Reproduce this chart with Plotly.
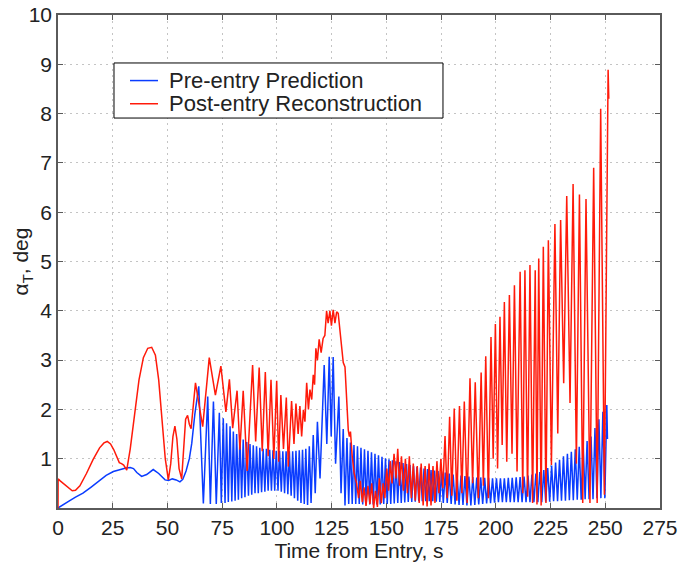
import plotly.graph_objects as go

# ---------------- data ----------------
# Pre-entry prediction (blue): smooth part, then peak/trough sequence
blue_t = [0, 2, 5, 8, 11.4, 15, 19.2, 22, 25.3, 28, 31, 33, 34.5, 36, 38.2, 40.5, 43.5, 46, 48.9, 50.5,
          52.2, 54, 55.7, 57, 58.5, 60, 61.1, 62.5, 64.3,
          66.4, 68.4, 69.6, 71.0, 72.3, 73.7, 74.6, 75.5, 76.3, 77.0, 77.8, 78.6, 79.4, 80.1, 80.9, 81.6,
          82.4, 83.1, 83.9, 84.6, 85.4, 86.2, 87.0, 87.7, 88.5, 89.2, 90.0, 90.7, 91.5, 92.2, 93.0, 93.7,
          94.5, 95.2, 96.0, 96.7, 97.5, 98.2, 99.0, 99.7, 100.5, 101.2, 102.0, 102.7, 103.5, 104.2, 105.0,
          105.7, 106.5, 107.2, 108.0, 108.7, 109.5, 110.2, 111.0, 111.7, 112.5, 113.2, 114.0, 114.8, 115.6,
          116.6, 117.5, 118.5, 119.7, 121.6, 122.8, 123.9, 124.8, 125.7, 126.8, 128.3, 129.3, 130.3, 131.1,
          132.0, 132.8, 133.6, 134.4, 135.2, 136.0, 136.8, 137.6, 138.4, 139.2, 140.0, 140.8, 141.6, 142.4,
          143.2, 144.0, 144.8, 145.6, 146.4, 147.2, 148.0, 148.8, 149.6, 150.4, 151.2, 152.0, 152.8, 153.6,
          154.4, 155.2, 156.0, 156.8, 157.6, 158.4, 159.2, 160.0, 160.8, 161.6, 162.4, 163.2, 164.0, 164.8,
          165.6, 166.4, 167.2, 168.0, 168.8, 169.6, 170.4, 171.2, 172.0, 172.8, 173.6, 174.4, 175.2, 176.0,
          176.9, 177.8, 178.7, 179.6, 180.5, 181.4, 182.3, 183.2, 184.1, 185.0, 185.9, 186.8, 187.7, 188.6,
          189.5, 190.4, 191.3, 192.2, 193.1, 194.0, 194.9, 195.8, 196.7, 197.6, 198.5, 199.4, 200.3, 201.2,
          202.1, 203.0, 203.9, 204.8, 205.7, 206.6, 207.5, 208.4, 209.3, 210.2, 211.1, 212.0, 212.9, 213.8,
          214.7, 215.6, 216.5, 217.4, 218.3, 219.2, 220.1, 221.0, 221.9, 222.8, 223.7, 224.6, 225.5, 226.4,
          227.3, 228.2, 229.1, 230.0, 230.9, 231.8, 232.7, 233.6, 234.5, 235.4, 236.3, 237.2, 238.1, 239.0,
          239.9, 240.8, 241.7, 242.6, 243.5, 244.4, 245.3, 246.2, 247.1, 248.0, 248.9, 249.8, 250.7, 251.0]
blue_v = [0, 0.06, 0.14, 0.22, 0.3, 0.42, 0.57, 0.66, 0.74, 0.78, 0.81, 0.82, 0.8, 0.72, 0.64, 0.68, 0.78, 0.7, 0.57, 0.56,
          0.59, 0.57, 0.53, 0.58, 0.75, 1.0, 1.31, 1.9, 2.47,
          0.09, 2.26, 0.08, 2.16, 0.08, 1.93, 0.1, 1.82, 0.1, 1.72, 0.12, 1.66, 0.13, 1.55, 0.15, 1.5,
          0.17, 1.45, 0.2, 1.39, 0.22, 1.34, 0.25, 1.3, 0.27, 1.27, 0.3, 1.25, 0.3, 1.22, 0.32, 1.2,
          0.33, 1.2, 0.35, 1.18, 0.35, 1.17, 0.35, 1.16, 0.35, 1.16, 0.33, 1.15, 0.3, 1.15, 0.28,
          1.15, 0.25, 1.15, 0.2, 1.16, 0.15, 1.17, 0.1, 1.18, 0.08, 1.2, 0.06, 1.25, 0.1,
          1.48, 0.3, 1.75, 0.6, 2.9, 1.3, 3.07, 1.45, 3.06, 0.9, 2.26, 0.3, 1.6, 0.05,
          1.42, 0.08, 1.33, 0.08, 1.28, 0.08, 1.25, 0.08, 1.22, 0.07, 1.19, 0.07, 1.16, 0.07,
          1.13, 0.07, 1.1, 0.07, 1.07, 0.07, 1.04, 0.08, 1.01, 0.08, 0.99, 0.08, 0.97, 0.09,
          0.95, 0.1, 0.93, 0.1, 0.91, 0.11, 0.89, 0.12, 0.87, 0.12, 0.85, 0.13, 0.83, 0.14,
          0.82, 0.14, 0.8, 0.14, 0.79, 0.14, 0.77, 0.14, 0.76, 0.13, 0.75, 0.12, 0.74, 0.1,
          0.72, 0.1, 0.7, 0.08, 0.68, 0.07, 0.67, 0.06, 0.66, 0.06, 0.65, 0.05, 0.64, 0.05,
          0.63, 0.06, 0.62, 0.07, 0.62, 0.08, 0.61, 0.09, 0.61, 0.1, 0.6, 0.11, 0.6, 0.12,
          0.6, 0.12, 0.6, 0.12, 0.61, 0.12, 0.61, 0.12, 0.62, 0.12, 0.63, 0.12, 0.64, 0.12,
          0.66, 0.12, 0.68, 0.12, 0.7, 0.12, 0.73, 0.12, 0.77, 0.13, 0.81, 0.13, 0.86, 0.14,
          0.92, 0.14, 0.98, 0.15, 1.05, 0.15, 1.1, 0.16, 1.14, 0.16, 1.19, 0.17, 1.24, 0.17,
          1.29, 0.18, 1.36, 0.18, 1.45, 0.18, 1.62, 0.2, 1.8, 0.2, 1.95, 0.2, 2.09, 1.4]

# Post-entry reconstruction (red)
red_t = [0, 0.05, 1, 3, 5, 6.5, 8, 10, 13, 16, 19, 21, 22.5, 24, 25.5, 27, 28, 29, 30, 31.4,
         33, 35, 37, 39, 41, 42.8, 44.5, 46, 47.5, 49, 50.4, 51.5, 52.5, 53.4, 54.3, 55.3, 56.5, 57.5,
         58.3, 59.2, 60, 60.8, 61.8, 62.8,
         66.1, 69.1, 71.9, 74.4, 76.7, 78.3, 79.8, 81.8, 83.1, 84.6, 86.4, 88.9, 90.3, 91.9, 93.3, 94.7,
         96.0, 97.3, 98.6, 99.9, 100.8, 101.8, 103.0, 104.3, 105.2, 106.7, 107.8, 108.7, 109.7, 110.5,
         111.3, 112.1, 112.8, 113.6, 114.4, 115.1, 115.9, 116.6, 117.2, 117.8, 118.5, 119.3, 120.2, 121.1,
         121.9, 122.7, 123.4, 124.2, 124.9, 125.7, 126.5, 127.3, 128.0, 128.8, 129.6, 130.3, 131.1, 131.9,
         132.6, 133.1, 133.6, 134.4, 135.3, 136.4,
         137.3, 138.1, 139.0, 139.8, 140.7, 141.6, 142.5, 143.3, 144.2, 145.0, 145.9, 146.8, 147.7, 148.5,
         149.3, 150.2, 151.0, 151.8, 152.6, 153.5, 154.4, 155.2, 156.0, 156.9, 157.8, 158.7, 159.6, 160.5,
         161.4, 162.3, 163.2, 164.1, 165.0, 165.9, 166.8, 167.7, 168.6, 169.5, 170.4, 171.3, 172.2, 173.1,
         174.0, 174.9, 175.8, 176.8, 177.8, 178.9, 179.9, 181.0, 182.2, 183.4, 184.5, 185.6, 186.9, 188.2,
         189.4, 190.6, 192.0, 193.3, 194.3, 195.4, 196.6, 197.8, 198.8, 199.8, 200.8, 201.9, 202.9, 203.9,
         205.0, 206.2, 207.4, 208.5, 209.7, 211.1, 212.3, 213.3, 214.5, 215.6, 216.8, 218.0, 218.8, 219.6,
         220.7, 221.7, 222.9, 224.0, 225.4, 227.0, 228.3, 229.6, 231.0, 232.4, 233.9, 235.3, 236.8, 238.2,
         239.7, 241.2, 243.0, 244.7, 246.3, 247.9, 249.6, 251.3, 251.6]
red_v = [0, 0.59, 0.55, 0.48, 0.4, 0.35, 0.36, 0.45, 0.7, 0.98, 1.22, 1.32, 1.35, 1.3, 1.18, 1.0, 0.92, 0.9, 0.87, 0.77,
         1.2, 1.9, 2.6, 3.05, 3.24, 3.26, 3.1, 2.6, 1.8, 1.0, 0.57, 0.9, 1.45, 1.66, 1.4, 0.8, 0.59, 1.3,
         1.8, 1.88, 1.7, 1.61, 2.1, 2.54,
         1.65, 3.05, 2.29, 2.88, 1.95, 2.61, 1.62, 2.38, 1.18, 2.38, 0.75, 2.9, 1.35, 2.85, 1.15, 2.76,
         1.05, 2.6, 1.0, 2.58, 0.94, 2.29, 1.2, 2.24, 0.84, 2.17, 1.3, 2.12, 1.5, 2.07,
         1.45, 1.99, 1.75, 2.54, 2.0, 2.4, 2.2, 2.7, 2.5, 3.24, 3.0, 3.42, 3.15, 3.44,
         3.5, 4.0, 3.75, 4.0, 3.7, 4.02, 3.75, 3.98, 3.95, 3.6, 3.14, 2.95, 2.86, 2.2,
         1.58, 1.45, 1.55, 1.05, 0.7, 0.5,
         0.2, 0.55, 0.12, 0.42, 0.04, 0.45, 0.08, 0.5, 0.0, 0.35, 0.02, 0.6, 0.1, 0.5,
         0.2, 0.8, 0.35, 0.95, 0.5, 1.1, 0.6, 1.2, 0.45, 1.05, 0.35, 1.0, 0.3, 1.05,
         0.2, 0.9, 0.15, 0.85, 0.1, 0.9, 0.05, 0.85, 0.03, 0.9, 0.05, 0.85, 0.1, 0.95,
         0.3, 1.0, 0.4, 1.46, 0.2, 1.85, 0.25, 2.02, 0.15, 2.07, 0.3, 2.16, 0.1, 2.63,
         0.5, 2.55, 0.2, 2.75, 0.45, 3.08, 0.2, 3.47, 1.0, 3.73, 0.8, 3.88, 1.28, 4.18,
         0.94, 4.32, 1.1, 4.52, 0.74, 4.79, 0.3, 4.82, 0.23, 4.93, 0.1, 4.82, 0.07, 5.06,
         0.05, 5.3, 0.1, 5.43, 0.87, 5.76, 1.51, 5.84, 2.53, 6.33, 2.13, 6.57, 0.9, 6.36,
         0.1, 6.27, 0.1, 6.9, 0.1, 8.1, 0.27, 8.89, 8.3]

x_ticks = [0, 25, 50, 75, 100, 125, 150, 175, 200, 225, 250, 275]
y_ticks = [1, 2, 3, 4, 5, 6, 7, 8, 9, 10]
series_names = ["Pre-entry Prediction", "Post-entry Reconstruction"]
series_colors = ["#0a3cff", "#ff1a0a"]

FONT = "Liberation Sans, Arial, Helvetica, sans-serif"

fig = go.Figure()
fig.add_trace(go.Scatter(x=blue_t, y=blue_v, mode="lines", name=series_names[0],
                         line=dict(color=series_colors[0], width=1.5), showlegend=False))
fig.add_trace(go.Scatter(x=red_t, y=red_v, mode="lines", name=series_names[1],
                         line=dict(color=series_colors[1], width=1.5), showlegend=False))

axis_common = dict(
    showline=True, linecolor="#5a5a5a", linewidth=1.5, mirror="ticks",
    ticks="inside", ticklen=5, tickcolor="#5a5a5a", tickwidth=1,
    showgrid=True, gridcolor="#c4c4c4", griddash="2px,4px", gridwidth=1,
    zeroline=False, tickfont=dict(family=FONT, size=21, color="#222"),
    automargin=False,
)

fig.update_xaxes(range=[0, 275], tickvals=x_ticks, ticktext=[str(v) for v in x_ticks],
                 title=dict(text="Time from Entry, s", font=dict(family=FONT, size=21, color="#222"),
                            standoff=4),
                 **axis_common)
fig.update_yaxes(range=[0, 10], tickvals=y_ticks, ticktext=[str(v) for v in y_ticks],
                 **axis_common)

# y-axis title as a rotated annotation (exact placement)
annotations = [dict(text="α<sub>T</sub>, deg", xref="paper", yref="paper", x=-0.06, y=0.5,
                    xanchor="center", yanchor="middle", textangle=-90, showarrow=False,
                    font=dict(family=FONT, size=21, color="#222"))]

# legend box drawn by hand to match the reference proportions
lg_x0, lg_x1, lg_y0, lg_y1 = 0.093, 0.6395, 0.791, 0.9027
row_y = [0.867, 0.82]
shapes = [dict(type="rect", xref="paper", yref="paper", x0=lg_x0, x1=lg_x1, y0=lg_y0, y1=lg_y1,
               line=dict(color="black", width=1), fillcolor="white", layer="above")]
for name, color, ry in zip(series_names, series_colors, row_y):
    shapes.append(dict(type="line", xref="paper", yref="paper", x0=0.1196, x1=0.1661, y0=ry, y1=ry,
                       line=dict(color=color, width=1.5), layer="above"))
    annotations.append(dict(text=name, xref="paper", yref="paper", x=0.1810, y=ry,
                            xanchor="left", yanchor="middle", showarrow=False,
                            font=dict(family=FONT, size=22, color="#222")))

fig.update_layout(
    width=689, height=568,
    margin=dict(l=58, r=29, t=15, b=60),
    paper_bgcolor="white", plot_bgcolor="white",
    font=dict(family=FONT, size=21, color="#222"),
    showlegend=False,
    shapes=shapes, annotations=annotations,
)

fig.write_html("out.html")
